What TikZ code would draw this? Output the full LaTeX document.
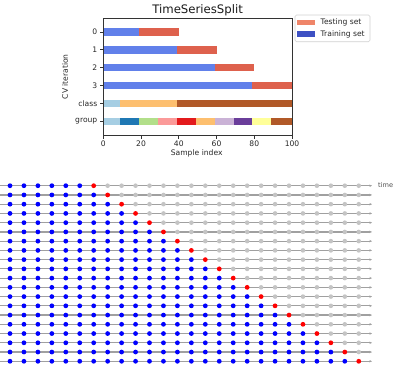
\documentclass[tikz,border=0pt]{standalone}
\usepackage{fontspec}
\setmainfont{DejaVu Sans}
\usetikzlibrary{arrows.meta}
\definecolor{trainc}{HTML}{6180EA}
\definecolor{testc}{HTML}{DE614D}
\definecolor{trainleg}{HTML}{3D50C3}
\definecolor{testleg}{HTML}{EF8569}
\definecolor{pa}{HTML}{A6CEE3}
\definecolor{pb}{HTML}{1F78B4}
\definecolor{pc}{HTML}{B2DF8A}
\definecolor{pd}{HTML}{FB9A99}
\definecolor{pe}{HTML}{E31A1C}
\definecolor{pf}{HTML}{FDBF6F}
\definecolor{pg}{HTML}{CAB2D6}
\definecolor{ph}{HTML}{6A3D9A}
\definecolor{pi}{HTML}{FFFF99}
\definecolor{pj}{HTML}{B15928}
\definecolor{linec}{HTML}{A0A0A0}
\definecolor{dotgrey}{HTML}{C4C4C4}
\definecolor{spinec}{HTML}{333333}
\begin{document}
\begin{tikzpicture}[x=1pt,y=-1pt,
  ticklab/.style={font=\fontsize{7.6}{8}\selectfont, text=black!85, inner sep=0pt},
  spine/.style={draw=spinec, line width=0.8pt},
  tickmark/.style={draw=spinec, line width=0.8pt},
  timeline/.style={draw=linec, line width=1.2pt, -{Stealth[length=2.6pt,width=2.4pt]}},
]
\useasboundingbox (0,0) rectangle (403,368);
% ---------------- top chart ----------------
\node[font=\fontsize{11.7}{13}\selectfont, text=black!90] (title) at (197.6,10) {TimeSeriesSplit};
\begin{scope}[xshift=103.3pt, x=1.887pt]
  % CV rows
  \foreach \i/\tr/\te in {0/19/40, 1/39/60, 2/59/80, 3/79/100}{
    \pgfmathsetmacro{\yy}{32+17.85*\i}
    \fill[trainc] (0,\yy-3.7) rectangle (\tr,\yy+3.7);
    \fill[testc] (\tr,\yy-3.7) rectangle (\te,\yy+3.7);
  }
  % class row
  \fill[pa] (0,103.4-3.7) rectangle (9,103.4+3.7);
  \fill[pf] (9,103.4-3.7) rectangle (39,103.4+3.7);
  \fill[pj] (39,103.4-3.7) rectangle (100,103.4+3.7);
  % group row
  \foreach \c/\a/\b in {pa/0/9, pb/9/19, pc/19/29, pd/29/39, pe/39/49, pf/49/59, pg/59/69, ph/69/79, pi/79/89, pj/89/100}{
    \fill[\c] (\a,121.25-3.7) rectangle (\b,121.25+3.7);
  }
  % frame
  \draw[spine] (0,18.3) rectangle (100,135);
  % y ticks
  \foreach \i/\lab in {0/0, 1/1, 2/2, 3/3, 4/class, 5/group}{
    \pgfmathsetmacro{\yy}{32+17.85*\i}
    \draw[tickmark] (0,\yy) -- ++(-3.5pt,0pt);
    \node[ticklab, anchor=east] (yl\i) at ([xshift=-5.8pt]0,\yy) {\lab};
  }
  % x ticks
  \foreach \v in {0,20,40,60,80,100}{
    \draw[tickmark] (\v,135) -- ++(0pt,-3.5pt);
    \node[ticklab, anchor=north] (xl\v) at ([yshift=-5.5pt]\v,135) {\v};
  }
  \node[ticklab] (xlabel) at (49.5,153.5) {Sample index};
\end{scope}
\node[ticklab, rotate=90] (ylabel) at (65,76.7) {CV iteration};
% legend
\draw[draw=black!18, fill=white, rounded corners=1.5pt, line width=0.6pt] (295,15) rectangle (370,41.7);
\fill[testleg] (297.3,19.6) rectangle (315,25);
\fill[trainleg] (297.3,31.3) rectangle (315,36.7);
\node[ticklab, anchor=west] (legtest) at (320.5,22.3) {Testing set};
\node[ticklab, anchor=west] (legtrain) at (320.5,34) {Training set};
% ---------------- bottom diagram ----------------
\foreach \k in {0,...,19}{
  \pgfmathsetmacro{\yy}{185.7+9.24*\k}
  \coordinate (s\k) at (0,\yy);
  \coordinate (e\k) at (372,\yy);
  \draw[timeline] (s\k) -- (e\k);
  \pgfmathtruncatemacro{\rc}{\k+6}
  \foreach \j in {0,...,25}{
    \pgfmathsetmacro{\xx}{10+13.95*\j}
    \ifnum\j<\rc
      \fill[blue] (\xx,\yy) circle (2.4pt);
    \else\ifnum\j=\rc
      \fill[red] (\xx,\yy) circle (2.4pt);
    \else
      \fill[dotgrey] (\xx,\yy) circle (2.3pt);
    \fi\fi
  }
}
\node[font=\fontsize{6.6}{7}\selectfont, text=black!70, anchor=west, inner sep=0pt] (timelab) at (378,185.5) {time};
\end{tikzpicture}
\end{document}
